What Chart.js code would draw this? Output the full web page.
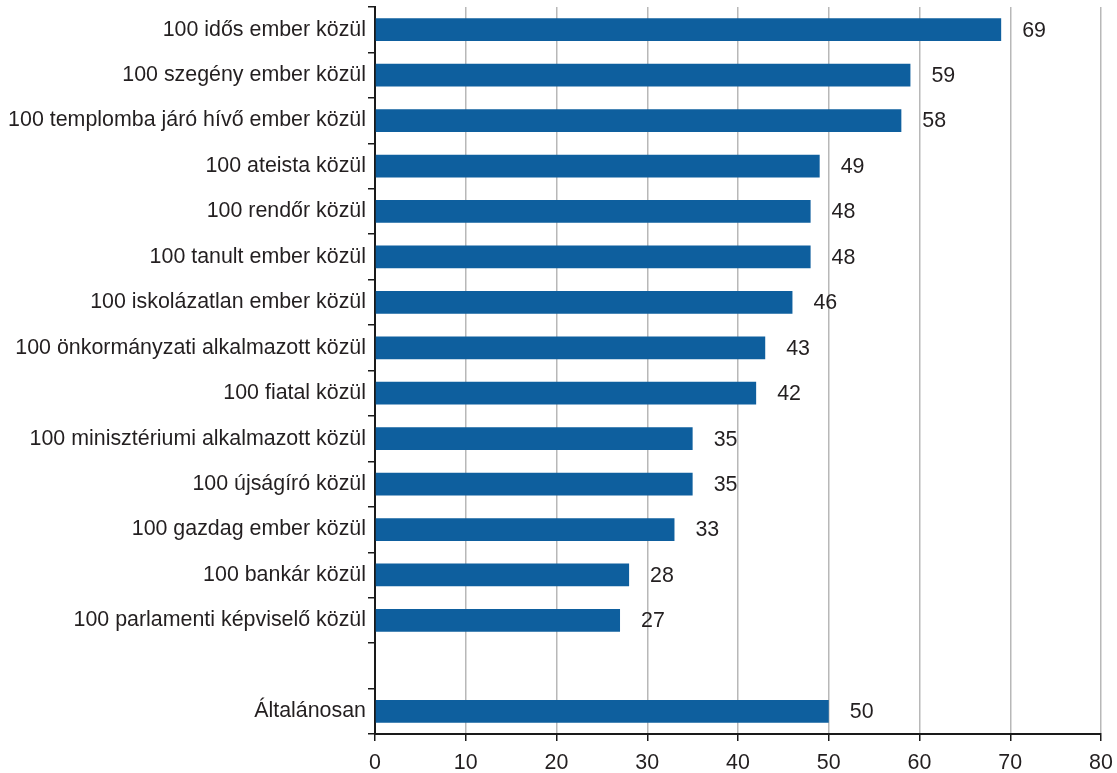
<!DOCTYPE html>
<html>
<head>
<meta charset="utf-8">
<script src="https://cdn.jsdelivr.net/npm/chart.js@4/dist/chart.umd.min.js"></script>
<style>
  html, body { margin: 0; padding: 0; background: #fff; }
  #wrap { width: 1117px; height: 773px; position: relative; }
</style>
</head>
<body>
<div id="wrap"><canvas id="c"></canvas></div>
<script>
// Groups (the empty entry leaves a gap before the overall figure)
const categories = [
  "100 idős ember közül",
  "100 szegény ember közül",
  "100 templomba járó hívő ember közül",
  "100 ateista közül",
  "100 rendőr közül",
  "100 tanult ember közül",
  "100 iskolázatlan ember közül",
  "100 önkormányzati alkalmazott közül",
  "100 fiatal közül",
  "100 minisztériumi alkalmazott közül",
  "100 újságíró közül",
  "100 gazdag ember közül",
  "100 bankár közül",
  "100 parlamenti képviselő közül",
  "",
  "Általánosan"
];
const values = [69, 59, 58, 49, 48, 48, 46, 43, 42, 35, 35, 33, 28, 27, null, 50];
const xTicks = [0, 10, 20, 30, 40, 50, 60, 70, 80];

const FONT = "'Liberation Sans', Arial, sans-serif";
const FONT_SIZE = 21.4;
const TEXT = "#231f20";
const BAR = "#0e5f9e";

// Writes each bar's value just to the right of its end
const valueLabels = {
  id: "valueLabels",
  afterDatasetsDraw(chart) {
    const ctx = chart.ctx;
    const meta = chart.getDatasetMeta(0);
    const xs = chart.scales.x;
    ctx.save();
    ctx.font = FONT_SIZE + "px " + FONT;
    ctx.fillStyle = TEXT;
    ctx.textAlign = "left";
    ctx.textBaseline = "middle";
    meta.data.forEach((el, i) => {
      const v = values[i];
      if (v === null || v === undefined) return;
      ctx.fillText(String(v), xs.getPixelForValue(v) + 21, el.y + 1);
    });
    ctx.restore();
  }
};

new Chart(document.getElementById("c"), {
  type: "bar",
  data: {
    labels: categories,
    datasets: [{
      data: values,
      backgroundColor: BAR,
      borderWidth: 0,
      barPercentage: 0.5,
      categoryPercentage: 1.0
    }]
  },
  options: {
    indexAxis: "y",
    responsive: true,
    maintainAspectRatio: false,
    animation: false,
    layout: { padding: { top: 7, right: 16, bottom: 0, left: 0 } },
    plugins: {
      legend: { display: false },
      tooltip: { enabled: false }
    },
    scales: {
      x: {
        type: "linear",
        min: 0,
        max: 80,
        afterBuildTicks(scale) {
          scale.ticks = xTicks.map(v => ({ value: v }));
        },
        afterFit(scale) {
          scale.height = 39;
          scale.paddingLeft = 0;
          scale.paddingRight = 0;
        },
        border: { display: true, color: "#1a1a1a", width: 2 },
        grid: {
          color: (c) => (c.tick && c.tick.value === 0) ? "rgba(0,0,0,0)" : "#b8b8b8",
          lineWidth: 1.5,
          tickColor: "#1a1a1a",
          tickLength: 7,
          drawTicks: true
        },
        ticks: {
          color: TEXT,
          font: { family: FONT, size: FONT_SIZE },
          padding: 9,
          maxRotation: 0
        }
      },
      y: {
        type: "category",
        afterFit(scale) {
          scale.width = 375;
          scale.paddingTop = 0;
          scale.paddingBottom = 0;
        },
        border: { display: true, color: "#1a1a1a", width: 2 },
        grid: {
          offset: true,
          drawOnChartArea: false,
          drawTicks: true,
          tickLength: 7,
          color: "#1a1a1a",
          tickColor: "#1a1a1a",
          lineWidth: 1.5
        },
        ticks: {
          color: TEXT,
          font: { family: FONT, size: FONT_SIZE },
          padding: 2,
          autoSkip: false
        }
      }
    }
  },
  plugins: [valueLabels]
});
</script>
</body>
</html>
